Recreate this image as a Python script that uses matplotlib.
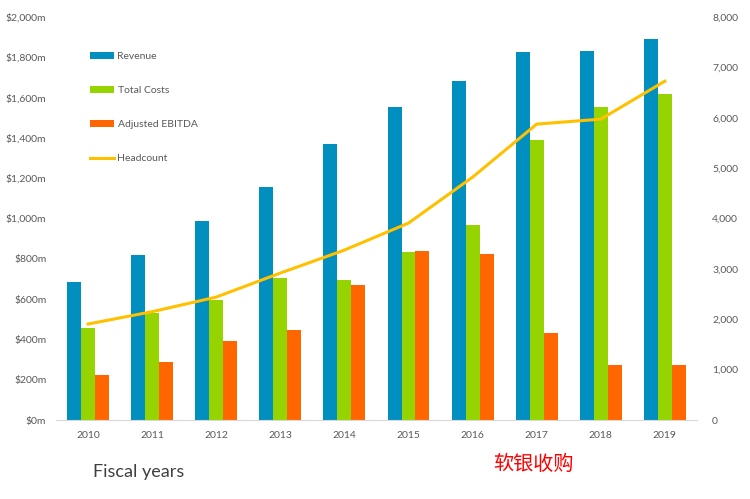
import numpy as np
import matplotlib.pyplot as plt
from matplotlib.ticker import FuncFormatter

years = ['2010', '2011', '2012', '2013', '2014', '2015', '2016', '2017', '2018', '2019']
revenue = [683, 820, 988, 1155, 1371, 1555, 1684, 1825, 1831, 1893]
total_costs = [458, 532, 595, 703, 696, 832, 968, 1390, 1552, 1616]
adj_ebitda = [223, 286, 394, 447, 670, 840, 822, 433, 275, 271]
headcount = [1905, 2150, 2440, 2917, 3373, 3909, 4821, 5873, 5972, 6726]

c_rev = '#008fbe'
c_cost = '#96d400'
c_ebitda = '#ff6600'
c_head = '#ffc000'
txt = '#595959'

plt.rcParams['font.family'] = ['Lato', 'DejaVu Sans']

fig = plt.figure(figsize=(7.5, 4.99), dpi=100)
ax = fig.add_axes([0.0747, 0.1583, 0.8545, 0.8077])
ax2 = ax.twinx()

x = np.arange(len(years))
w = 0.218
b1 = ax.bar(x - w, revenue, w, color=c_rev, label='Revenue')
b2 = ax.bar(x, total_costs, w, color=c_cost, label='Total Costs')
b3 = ax.bar(x + w, adj_ebitda, w, color=c_ebitda, label='Adjusted EBITDA')
l1, = ax2.plot(x, headcount, color=c_head, lw=2.2, label='Headcount')

ax.set_xlim(-0.5, len(years) - 0.5)
ax.set_ylim(0, 2000)
ax2.set_ylim(0, 8000)
ax.set_yticks(range(0, 2001, 200))
ax2.set_yticks(range(0, 8001, 1000))
ax.yaxis.set_major_formatter(FuncFormatter(lambda v, p: '${:,.0f}m'.format(v)))
ax2.yaxis.set_major_formatter(FuncFormatter(lambda v, p: '{:,.0f}'.format(v)))
ax.set_xticks(x)
ax.set_xticklabels(years)

for a in (ax, ax2):
    for s in a.spines.values():
        s.set_visible(False)
    a.tick_params(length=0, labelsize=7.5, colors=txt)
ax.spines['bottom'].set_visible(True)
ax.spines['bottom'].set_color('#d9d9d9')
ax.tick_params(axis='x', pad=8)
ax.tick_params(axis='y', pad=7)
ax2.tick_params(axis='y', pad=11)

leg = ax2.legend([b1, b2, b3, l1], ['Revenue', 'Total Costs', 'Adjusted EBITDA', 'Headcount'],
                 loc='upper left', bbox_to_anchor=(0.115, 0.904), bbox_transform=fig.transFigure,
                 frameon=False, fontsize=7.5, labelspacing=2.4, handlelength=2.3,
                 handleheight=0.6, handletextpad=0.3, borderaxespad=0)
for t in leg.get_texts():
    t.set_color(txt)

fig.text(0.124, 0.045, 'Fiscal years', fontsize=13, color='#404040')
fig.text(0.657, 0.058, '软银收购', fontsize=14.5, color='#ff0000', family=['Noto Sans CJK SC', 'DejaVu Sans'])

fig.savefig('out.png', dpi=100)
